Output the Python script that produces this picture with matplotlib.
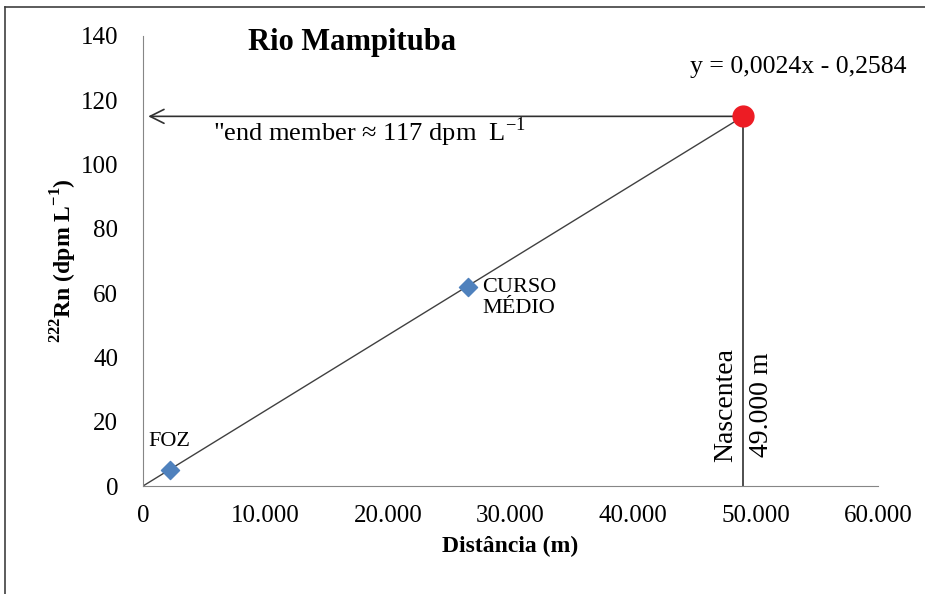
import matplotlib
matplotlib.use("Agg")
import matplotlib.pyplot as plt
from matplotlib.lines import Line2D

plt.rcParams["font.family"] = ["Liberation Serif", "DejaVu Serif"]
plt.rcParams["mathtext.fontset"] = "custom"
plt.rcParams["mathtext.rm"] = "Liberation Serif"
plt.rcParams["mathtext.bf"] = "Liberation Serif:bold"

# data
point_names = ["FOZ", "CURSO\nMÉDIO"]
point_x = [2200, 26500]
point_y = [5, 62]
source_x = [49000]
source_y = [115]
trend_x = [0, 49000]
trend_y = [0, 115]
x_ticks = [0, 10000, 20000, 30000, 40000, 50000, 60000]
x_tick_labels = ["0", "10.000", "20.000", "30.000", "40.000", "50.000", "60.000"]
y_ticks = [0, 20, 40, 60, 80, 100, 120, 140]

fig = plt.figure(figsize=(9.25, 5.94), dpi=100)
ax = fig.add_axes([0.1546, 0.1818, 0.7946, 0.7576])

ax.plot(trend_x, trend_y, color="#404040", lw=1.0, zorder=2)
ax.plot([source_x[0], source_x[0]], [0, source_y[0]], color="#303030", lw=1.2, zorder=2)
ax.annotate("", xy=(200, source_y[0]), xytext=(source_x[0], source_y[0]),
            arrowprops=dict(arrowstyle="->", color="#303030", lw=1.2, mutation_scale=25))
ax.scatter(point_x, point_y, marker="D", s=85, color="#4F81BD", zorder=3)
ax.plot(source_x, source_y, "o", ms=15, color="#ED1C24", zorder=4)

ax.text(point_x[0] - 1800, point_y[0] + 6, point_names[0], fontsize=16, ha="left", va="bottom")
ax.text(point_x[1] + 1200, point_y[1] - 3.5, point_names[1], fontsize=16, ha="left", va="center",
        linespacing=1.15)

ax.text(5700, 110, r'"end member ≈ 117 dpm  L$^{-1}$', fontsize=19, ha="left", va="center")
ax.text(44650, 130.4, "y = 0,0024x - 0,2584", fontsize=18.5, ha="left", va="center")
ax.text(8570, 138, "Rio Mampituba", fontsize=22, fontweight="bold", ha="left", va="center")
ax.text(47590, 25.2, "Nascentea", fontsize=20, rotation=90, ha="center", va="center")
ax.text(50450, 25.2, "49.000 m", fontsize=20, rotation=90, ha="center", va="center")

ax.set_xlim(0, 60000)
ax.set_ylim(0, 140)
ax.set_xticks(x_ticks)
ax.set_xticklabels(x_tick_labels)
ax.set_yticks(y_ticks)
ax.tick_params(length=0, labelsize=18, pad=14)
ax.tick_params(axis="y", pad=18)
for s in ["top", "right"]:
    ax.spines[s].set_visible(False)
for s in ["left", "bottom"]:
    ax.spines[s].set_color("#868686")

ax.set_xlabel("Distância (m)", fontsize=17, fontweight="bold", labelpad=6)
ax.set_ylabel(r"$^{\mathbf{222}}$Rn (dpm L$^{\mathbf{-1}}$)", fontsize=17, fontweight="bold", labelpad=1)

# outer frame (left and top edges)
fig.add_artist(Line2D([0.0054, 0.0054], [0.0, 0.988], color="#404040", lw=1.2))
fig.add_artist(Line2D([0.0054, 1.0], [0.988, 0.988], color="#404040", lw=1.2))

fig.savefig("out.png", dpi=100)
